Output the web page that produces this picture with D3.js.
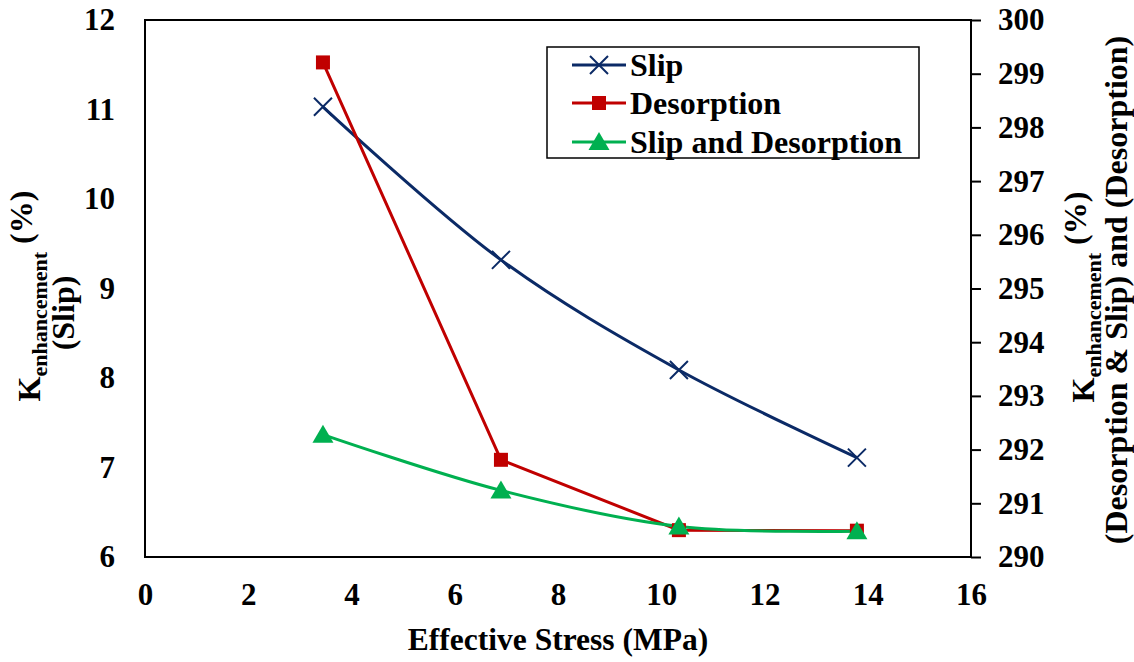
<!DOCTYPE html>
<html>
<head>
<meta charset="utf-8">
<script src="https://d3js.org/d3.v7.min.js"></script>
<style>
  html, body { margin: 0; padding: 0; background: #fff; }
  svg { display: block; }
  text { font-family: "Liberation Serif", "Times New Roman", serif; font-weight: bold; fill: #000; }
</style>
</head>
<body>
<svg id="chart" width="1134" height="662"></svg>
<script>
// Effective stress (MPa)
const stress = [3.447, 6.895, 10.342, 13.79];
// Permeability enhancement (%)
const slip = [11.03, 9.32, 8.09, 7.11];                 // left axis
const desorption = [299.21, 291.81, 290.5, 290.49];     // right axis
const slipDesorption = [292.28, 291.24, 290.57, 290.48]; // right axis

const xTicks = [0, 2, 4, 6, 8, 10, 12, 14, 16];
const yLeftTicks = [6, 7, 8, 9, 10, 11, 12];
const yRightTicks = [290, 291, 292, 293, 294, 295, 296, 297, 298, 299, 300];

const seriesNames = ["Slip", "Desorption", "Slip and Desorption"];
const colors = { slip: "#0b2a66", desorption: "#c00000", both: "#00b050" };

const plot = { left: 145, right: 971, top: 20, bottom: 557 };

const svg = d3.select("#chart");

const x = d3.scaleLinear().domain([0, 16]).range([plot.left, plot.right]);
const yL = d3.scaleLinear().domain([6, 12]).range([plot.bottom, plot.top]);
const yR = d3.scaleLinear().domain([290, 300]).range([plot.bottom, plot.top]);

// Axes
const xAxis = svg.append("g")
  .attr("transform", `translate(0,${plot.bottom})`)
  .call(d3.axisBottom(x).tickValues(xTicks).tickSize(0).tickPadding(26).tickFormat(d3.format("d")));
const yAxisL = svg.append("g")
  .attr("transform", `translate(${plot.left},0)`)
  .call(d3.axisLeft(yL).tickValues(yLeftTicks).tickSize(0).tickPadding(30).tickFormat(d3.format("d")));
const yAxisR = svg.append("g")
  .attr("transform", `translate(${plot.right},0)`)
  .call(d3.axisRight(yR).tickValues(yRightTicks).tickSize(10).tickPadding(17).tickFormat(d3.format("d")));

[xAxis, yAxisL, yAxisR].forEach(g => {
  g.select(".domain").remove();
  g.selectAll("text").style("font-size", "31px").style("font-family", "'Liberation Serif', serif").style("font-weight", "bold");
  g.selectAll("line").attr("stroke", "#000").attr("stroke-width", 2);
});

// Plot frame
svg.append("path")
  .attr("d", `M${plot.left},${plot.top}H${plot.right}V${plot.bottom}H${plot.left}Z`)
  .attr("stroke", "#000").attr("stroke-width", 2).attr("fill", "none");

// Series lines
const lineSlip = d3.line().x((d, i) => x(stress[i])).y(d => yL(d)).curve(d3.curveCatmullRom.alpha(0.5));
const lineDes = d3.line().x((d, i) => x(stress[i])).y(d => yR(d));
const lineBoth = d3.line().x((d, i) => x(stress[i])).y(d => yR(d)).curve(d3.curveCatmullRom.alpha(0.5));

svg.append("path").datum(slip).attr("d", lineSlip).attr("fill", "none").attr("stroke", colors.slip).attr("stroke-width", 3);
svg.append("path").datum(desorption).attr("d", lineDes).attr("fill", "none").attr("stroke", colors.desorption).attr("stroke-width", 3);
svg.append("path").datum(slipDesorption).attr("d", lineBoth).attr("fill", "none").attr("stroke", colors.both).attr("stroke-width", 3);

// Markers
function crossMarker(g, cx, cy, r, color) {
  g.append("path").attr("d", `M${cx - r},${cy - r}L${cx + r},${cy + r}M${cx - r},${cy + r}L${cx + r},${cy - r}`)
    .attr("stroke", color).attr("stroke-width", 2).attr("fill", "none");
}
function squareMarker(g, cx, cy, s, color) {
  g.append("rect").attr("x", cx - s / 2).attr("y", cy - s / 2).attr("width", s).attr("height", s).attr("fill", color);
}
function triMarker(g, cx, cy, w, h, color) {
  g.append("path").attr("d", `M${cx},${cy - h * 0.55}L${cx + w / 2},${cy + h * 0.45}L${cx - w / 2},${cy + h * 0.45}Z`).attr("fill", color);
}

const marks = svg.append("g");
desorption.forEach((d, i) => squareMarker(marks, x(stress[i]), yR(d), 14, colors.desorption));
slipDesorption.forEach((d, i) => triMarker(marks, x(stress[i]), yR(d), 21, 18, colors.both));
slip.forEach((d, i) => crossMarker(marks, x(stress[i]), yL(d), 9, colors.slip));

// Legend
const legend = svg.append("g");
legend.append("rect").attr("x", 547).attr("y", 47).attr("width", 372).attr("height", 111)
  .attr("fill", "#fff").attr("stroke", "#000").attr("stroke-width", 1.5);
const legRows = [65, 103, 142];
const legColors = [colors.slip, colors.desorption, colors.both];
legRows.forEach((ly, i) => {
  legend.append("line").attr("x1", 572).attr("x2", 626).attr("y1", ly).attr("y2", ly)
    .attr("stroke", legColors[i]).attr("stroke-width", 3);
  if (i === 0) crossMarker(legend, 599, ly, 9, colors.slip);
  if (i === 1) squareMarker(legend, 599, ly, 14, colors.desorption);
  if (i === 2) triMarker(legend, 599, ly, 21, 18, colors.both);
  legend.append("text").attr("x", 630).attr("y", ly).attr("dy", "0.34em")
    .style("font-size", "32px").text(seriesNames[i]);
});

// Axis titles
svg.append("text").attr("x", (plot.left + plot.right) / 2).attr("y", 650)
  .attr("text-anchor", "middle").style("font-size", "31.5px").text("Effective Stress (MPa)");

function kTitle(g, cx, cy) {
  const t = g.append("text").attr("transform", `translate(${cx},${cy}) rotate(-90)`)
    .attr("text-anchor", "middle").style("font-size", "32px");
  t.append("tspan").text("K");
  t.append("tspan").attr("dy", "0.3em").style("font-size", "22px").text("enhancement");
  t.append("tspan").attr("dy", "-0.45em").text(" (%)");
  return t;
}
kTitle(svg, 40, 296);
svg.append("text").attr("transform", "translate(74,313) rotate(-90)")
  .attr("text-anchor", "middle").style("font-size", "32px").text("(Slip)");

kTitle(svg, 1094, 297);
svg.append("text").attr("transform", "translate(1127,290) rotate(-90)")
  .attr("text-anchor", "middle").style("font-size", "32px").text("(Desorption & Slip) and (Desorption)");
</script>
</body>
</html>
